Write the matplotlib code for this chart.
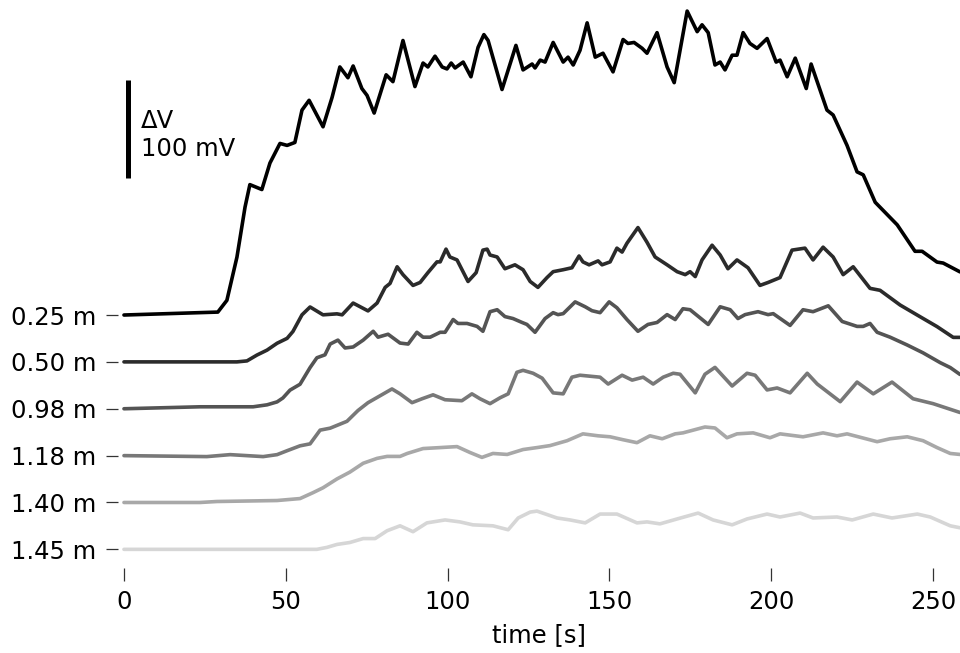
import matplotlib
matplotlib.use("Agg")
import matplotlib.pyplot as plt
import numpy as np

# ---- data (time in s, ΔV in mV relative to each trace's baseline) ----
labels = ["0.25 m", "0.50 m", "0.98 m", "1.18 m", "1.40 m", "1.45 m"]

t_025 = [0, 29.0, 31.8, 34.9, 37.4, 38.9, 42.6, 45.1, 48.2, 50.4, 52.8, 55.0, 57.2, 61.5, 64.3,
         66.7, 69.2, 70.8, 73.5, 75.1, 77.3, 81.0, 83.1, 86.2, 89.9, 92.4, 93.9, 96.1, 98.3,
         99.8, 101.1, 102.3, 104.8, 107.2, 109.4, 111.2, 112.5, 116.8, 121.1, 123.3, 126.1,
         127.0, 128.6, 130.1, 132.6, 135.7, 137.2, 138.8, 140.9, 143.1, 145.6, 148.0, 151.1,
         154.2, 155.7, 157.6, 160.1, 161.6, 164.7, 167.8, 170.0, 174.0, 177.1, 178.6, 180.5,
         182.6, 184.2, 185.7, 187.9, 189.4, 191.3, 193.4, 195.6, 198.7, 201.5, 202.7, 204.9,
         207.4, 210.8, 212.3, 217.2, 219.1, 223.4, 226.5, 228.4, 232.1, 238.9, 244.4, 246.6,
         251.2, 253.1, 258.3]
v_025 = [0, 3, 15, 59, 110, 133, 128, 155, 175, 173, 176, 209, 219, 192, 222,
         253, 242, 254, 231, 224, 206, 245, 238, 280, 233, 257, 253, 264, 253,
         251, 257, 252, 258, 243, 273, 286, 280, 230, 275, 250, 256,
         252, 260, 258, 278, 258, 263, 255, 270, 298, 263, 267, 248,
         281, 277, 278, 272, 267, 288, 253, 237, 310, 289, 296, 288,
         255, 258, 250, 265, 265, 288, 277, 272, 282, 258, 260, 243,
         262, 231, 256, 209, 204, 173, 146, 143, 115, 92, 65, 65,
         54, 53, 44]

t_050 = [0, 23.5, 34.9, 38.0, 41.1, 44.2, 47.3, 50.4, 52.2, 55.0, 57.5, 61.5, 65.8, 67.4, 70.8,
         75.4, 78.2, 80.7, 82.2, 84.4, 86.2, 89.3, 91.5, 93.9, 96.7, 97.7, 99.5, 100.7, 102.9,
         106.3, 108.8, 110.9, 112.2, 113.1, 115.3, 117.7, 120.8, 123.3, 125.5, 127.9, 130.7,
         132.6, 135.7, 138.4, 140.6, 141.8, 143.7, 146.5, 147.7, 150.2, 152.3, 153.9, 155.4,
         158.8, 161.6, 164.1, 167.8, 170.9, 173.4, 174.9, 176.5, 178.6, 181.7, 184.2, 186.6,
         189.4, 192.8, 196.5, 199.0, 202.7, 206.4, 210.4, 212.9, 216.0, 219.1, 222.2, 225.3,
         230.5, 233.6, 239.8, 246.0, 251.2, 256.2, 258.3]
v_050 = [0, 0, 0, 1, 7, 12, 19, 24, 31, 48, 56, 48, 49, 48, 60,
         52, 60, 76, 80, 97, 89, 78, 81, 91, 102, 102, 115, 107, 104,
         82, 91, 114, 115, 109, 107, 95, 99, 94, 82, 76, 86,
         92, 94, 96, 108, 102, 99, 103, 99, 102, 116, 112, 121,
         137, 122, 107, 99, 92, 89, 92, 87, 104, 119, 109, 95,
         104, 96, 78, 81, 86, 114, 116, 104, 117, 107, 89, 97,
         75, 73, 58, 46, 36, 25, 25]

t_098 = [0, 23.5, 39.9, 44.2, 47.3, 49.1, 51.3, 54.4, 57.5, 59.6, 62.1, 63.7, 66.1, 68.3, 70.8,
         73.9, 77.0, 78.5, 81.6, 85.3, 87.8, 90.5, 92.4, 94.6, 97.7, 99.2, 101.7, 103.2, 106.0,
         109.1, 110.9, 113.1, 115.3, 117.7, 120.2, 123.0, 124.5, 127.0, 130.1, 132.6, 134.1,
         135.7, 139.4, 142.5, 144.6, 147.1, 149.9, 152.3, 155.4, 158.8, 161.9, 164.7, 167.8,
         170.3, 172.7, 174.9, 180.5, 184.2, 187.3, 189.7, 191.9, 195.9, 199.0, 200.6, 205.8,
         209.8, 212.9, 217.6, 221.9, 226.5, 228.4, 230.5, 232.7, 236.7, 242.0, 246.9, 252.2,
         255.3, 258.3]
v_098 = [0, 2, 2, 4, 7, 11, 19, 25, 42, 52, 55, 66, 70, 62, 63,
         70, 79, 73, 76, 67, 66, 78, 73, 73, 78, 78, 91, 87, 87,
         84, 79, 99, 101, 94, 92, 88, 86, 78, 92, 98, 96,
         97, 109, 104, 100, 98, 109, 103, 91, 79, 86, 88, 96,
         91, 102, 101, 86, 104, 101, 92, 96, 99, 96, 97, 85,
         101, 99, 105, 89, 84, 84, 87, 78, 73, 65, 57, 47,
         42, 35]

t_118 = [0, 25.6, 32.8, 43.0, 47.3, 50.4, 54.4, 57.5, 60.6, 63.7, 68.9, 72.3, 75.4, 79.1, 82.8,
         85.3, 89.0, 92.1, 95.5, 99.2, 104.4, 107.5, 110.0, 113.1, 116.2, 118.7, 121.4, 123.3,
         126.4, 129.2, 132.6, 135.7, 138.4, 140.9, 144.0, 147.1, 149.6, 153.9, 157.0, 160.4,
         163.5, 166.6, 169.7, 171.8, 176.5, 179.5, 182.6, 187.9, 192.5, 195.0, 198.7, 201.8,
         205.8, 211.1, 214.2, 221.3, 226.5, 231.5, 237.3, 243.8, 250.0, 258.3]
v_118 = [0, -1, 1, -1, 1, 5, 10, 12, 26, 28, 35, 46, 54, 61, 68,
         63, 54, 58, 62, 57, 56, 63, 58, 53, 59, 63, 85, 87,
         84, 79, 64, 63, 80, 82, 81, 80, 73, 82, 77, 80,
         73, 80, 84, 83, 64, 83, 90, 71, 84, 82, 67, 69,
         64, 84, 73, 55, 75, 63, 75, 58, 53, 44]

t_140 = [0, 23.5, 28.7, 47.3, 54.4, 58.4, 61.5, 65.8, 69.8, 73.9, 78.2, 81.3, 85.3, 87.5, 92.4,
         97.7, 102.9, 106.9, 110.6, 114.0, 118.4, 123.3, 127.6, 131.6, 136.9, 141.8, 146.5,
         150.2, 154.2, 158.5, 162.5, 166.3, 170.3, 172.7, 179.5, 182.6, 186.3, 189.4, 194.4,
         199.6, 202.7, 209.8, 216.0, 220.3, 223.4, 232.7, 236.7, 242.0, 246.9, 251.2, 255.3,
         258.3]
v_140 = [0, 0, 1, 2, 4, 10, 15, 24, 31, 40, 45, 47, 47, 50, 55,
         56, 57, 51, 46, 50, 49, 54, 56, 58, 63, 70, 68,
         67, 64, 61, 68, 65, 70, 71, 77, 76, 66, 70, 71,
         66, 70, 67, 71, 68, 70, 62, 65, 67, 63, 56, 50,
         49]

t_145 = [0, 38.0, 59.6, 62.7, 65.8, 69.8, 73.9, 77.6, 81.3, 85.3, 89.3, 93.6, 99.2, 103.8,
         107.8, 114.0, 118.7, 121.8, 125.5, 127.6, 133.8, 137.8, 142.5, 147.1, 152.3, 158.5,
         161.6, 165.6, 170.9, 177.4, 182.0, 187.9, 192.5, 198.7, 202.7, 208.9, 212.9, 220.3,
         225.0, 231.5, 237.3, 245.1, 249.1, 255.3, 258.3]
v_145 = [0, 0, 0, 2, 5, 7, 11, 11, 19, 24, 18, 27, 30, 28,
         25, 24, 20, 32, 38, 39, 32, 30, 27, 36, 36, 27,
         28, 26, 31, 37, 30, 25, 31, 36, 33, 37, 32, 33,
         30, 36, 32, 36, 33, 24, 22]

times = [t_025, t_050, t_098, t_118, t_140, t_145]
values = [v_025, v_050, v_098, v_118, v_140, v_145]
colors = ["#000000", "#2b2b2b", "#545454", "#787878", "#a8a8a8", "#d6d6d6"]

x_ticks = [0, 50, 100, 150, 200, 250]
offset_step = 47.8
scalebar_mV = 100

# ---- figure ----
plt.rcParams['font.family'] = ['DejaVu Sans']
fig = plt.figure(figsize=(9.6, 6.53), dpi=100)
ax = fig.add_axes([0.1229, 0.1302, 0.8771, 0.8698])

offsets = [-i * offset_step for i in range(len(labels))]
for t, v, c, off in zip(times, values, colors, offsets):
    ax.plot(t, np.asarray(v) + off, color=c, lw=2.6,
            solid_joinstyle='round', solid_capstyle='round')

# scale bar
ax.plot([1.1, 1.1], [140, 140 + scalebar_mV], color='black', lw=3.6, solid_capstyle='butt')
ax.text(5.3, 183.5, "ΔV\n%d mV" % scalebar_mV, fontsize=17.5, va='center', ha='left')

ax.set_xlim(-1.85, 258.3)
ax.set_ylim(-258, 321.3)
ax.set_xticks(x_ticks)
ax.set_yticks(offsets)
ax.set_yticklabels(labels)
ax.set_xlabel("time [s]", fontsize=17.5, labelpad=7)
for s in ax.spines.values():
    s.set_visible(False)
ax.tick_params(axis='both', labelsize=17.5, length=9, width=0.9, pad=6.5, color='#333333')

fig.savefig("out.png", dpi=100)
